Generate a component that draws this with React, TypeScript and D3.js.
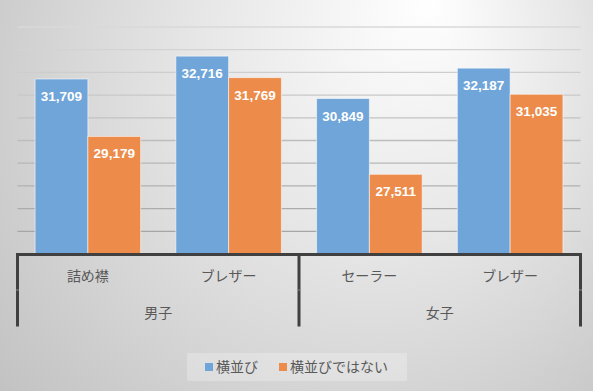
import React from "react";
import * as d3 from "d3";

const groups = ["男子", "女子"];
const categories = ["詰め襟", "ブレザー", "セーラー", "ブレザー"];
const categoryGroup = [0, 0, 1, 1];
const seriesNames = ["横並び", "横並びではない"];
const seriesA = [31709, 32716, 30849, 32187];
const seriesB = [29179, 31769, 27511, 31035];
const yTicks = [24000, 25000, 26000, 27000, 28000, 29000, 30000, 31000, 32000, 33000, 34000];

const W = 593;
const H = 391;
const colors = ["#6fa5d8", "#ec8b4a"];

export default function App() {
  const left = 17.5;
  const right = 580.5;
  const top = 27;
  const bottom = 254.5;
  const x0 = d3.scaleBand<number>().domain(d3.range(categories.length)).range([left, right]).paddingInner(0.25).paddingOuter(0.125);
  const x1 = d3.scaleBand<number>().domain([0, 1]).range([0, x0.bandwidth()]);
  const y = d3.scaleLinear().domain([24000, 34000]).range([bottom - 0.5, top]);
  const catW = (right - left) / categories.length;
  const fmt = d3.format(",");
  const series = [seriesA, seriesB];
  const fontJP = "'Noto Sans CJK JP', 'Noto Sans', sans-serif";

  return (
    <svg width={W} height={H} style={{ position: "absolute", left: 0, top: 0 }}>
      <defs>
        <radialGradient id="bg" gradientUnits="userSpaceOnUse" cx={330} cy={120} r={430} fx={430} fy={0}>
          <stop offset="0" stopColor="#ffffff" />
          <stop offset="0.45" stopColor="#e6e6e6" />
          <stop offset="1" stopColor="#c2c2c2" />
        </radialGradient>
        <linearGradient id="grid" gradientUnits="userSpaceOnUse" x1={0} y1={top} x2={0} y2={bottom}>
          <stop offset="0" stopColor="#d9d9d9" />
          <stop offset="1" stopColor="#a0a0a0" />
        </linearGradient>
      </defs>
      <rect x={0} y={0} width={W} height={H} fill="url(#bg)" />
      {yTicks.slice(1).map((t) => (
        <line key={t} x1={left} x2={right} y1={y(t)} y2={y(t)} stroke="url(#grid)" strokeWidth={1.3} />
      ))}
      {categories.map((c, i) =>
        series.map((s, k) => {
          const bx = (x0(i) as number) + (x1(k) as number);
          const by = y(s[i]);
          return (
            <g key={`${i}-${k}`}>
              <rect x={bx} y={by} width={x1.bandwidth()} height={bottom - by} fill={colors[k]} stroke="rgba(255,255,255,0.55)" strokeWidth={1} />
              <text x={bx + x1.bandwidth() / 2} y={by + 22} textAnchor="middle" fill="#ffffff" fontFamily="'Liberation Sans', Arial, sans-serif" fontWeight="bold" fontSize={13.5}>
                {fmt(s[i])}
              </text>
            </g>
          );
        })
      )}
      {/* category axis */}
      <line x1={left - 1.5} x2={right + 1.5} y1={bottom} y2={bottom} stroke="#404040" strokeWidth={3} />
      {[0, 2, 4].map((j) => (
        <line key={j} x1={left + j * catW} x2={left + j * catW} y1={bottom} y2={326.5} stroke="#404040" strokeWidth={3} />
      ))}
      {[0, 2, 4].map((j) => (
        <line key={"m" + j} x1={left + j * catW - 1.5} x2={left + j * catW + 1.5} y1={290} y2={290} stroke="#888" strokeWidth={1} />
      ))}
      {categories.map((c, i) => (
        <text key={"c" + i} x={left + catW * (i + 0.5)} y={281} textAnchor="middle" fill="#595959" fontFamily={fontJP} fontSize={14}>
          {c}
        </text>
      ))}
      {groups.map((g, gi) => {
        const idx = categoryGroup.map((v, i) => (v === gi ? i : -1)).filter((v) => v >= 0);
        const cx = left + catW * (d3.mean(idx)! + 0.5);
        return (
          <text key={"g" + gi} x={cx} y={318} textAnchor="middle" fill="#595959" fontFamily={fontJP} fontSize={14}>
            {g}
          </text>
        );
      })}
      {/* legend */}
      <rect x={187} y={353} width={220} height={28} fill="rgba(255,255,255,0.25)" />
      {seriesNames.map((n, k) => {
        const lx = k === 0 ? 205 : 279;
        return (
          <g key={"l" + k}>
            <rect x={lx} y={363} width={8} height={8} fill={colors[k]} />
            <text x={lx + 11} y={372} fill="#595959" fontFamily={fontJP} fontSize={14}>
              {n}
            </text>
          </g>
        );
      })}
    </svg>
  );
}
